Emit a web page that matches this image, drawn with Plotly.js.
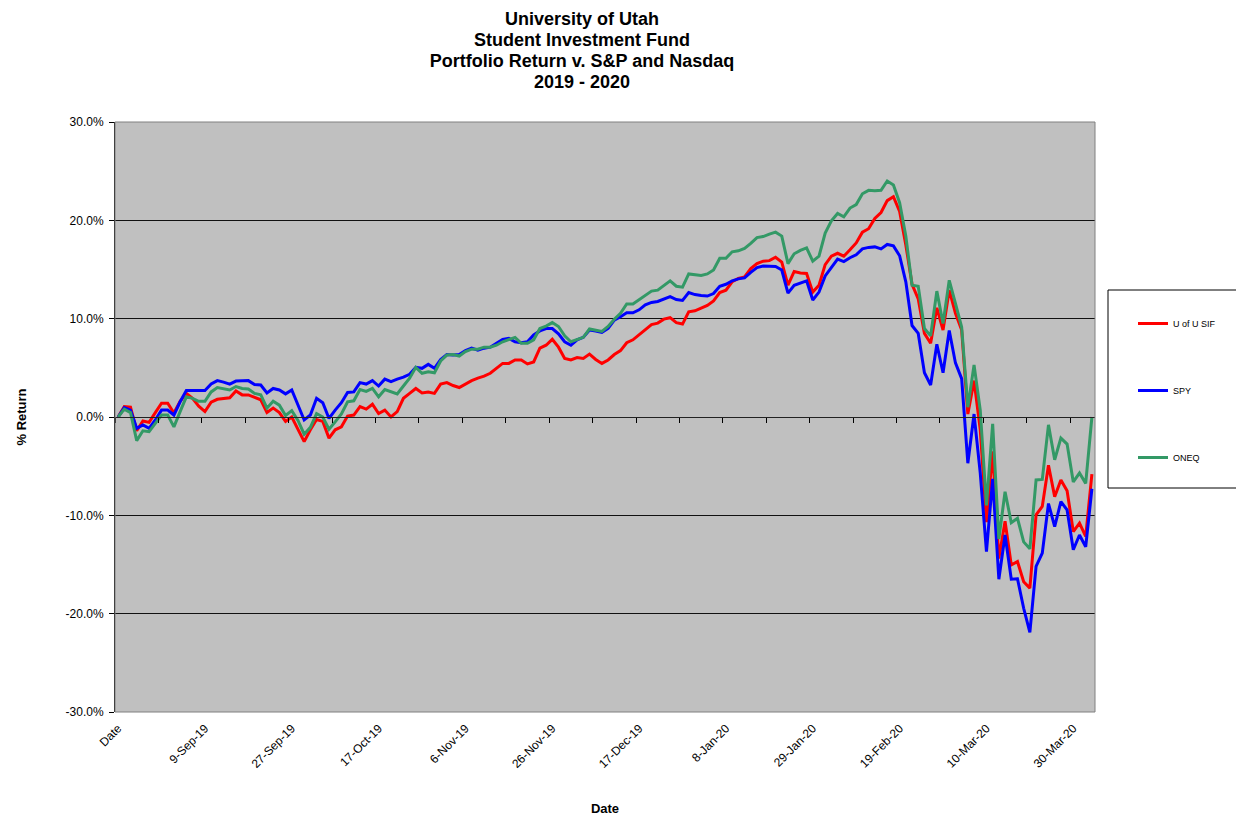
<!DOCTYPE html>
<html>
<head>
<meta charset="utf-8">
<script src="https://cdn.plot.ly/plotly-3.0.1.min.js"></script>
<style>
html,body{margin:0;padding:0;background:#fff;}
#chart{width:1236px;height:816px;}
</style>
</head>
<body>
<div id="chart"></div>
<script>
// Tick labels (one every 14 trading days, first category is the "Date" header row)
const tickLabels = ["Date","9-Sep-19","27-Sep-19","17-Oct-19","6-Nov-19","26-Nov-19","17-Dec-19","8-Jan-20","29-Jan-20","19-Feb-20","10-Mar-20","30-Mar-20"];
const yTickValues = [-30,-20,-10,0,10,20,30];

// % return series
const sifReturns = [
0,1.05,1.0,-1.4,-0.4,-0.55,0.45,1.4,1.4,0.4,
1.6,2.4,1.9,1.1,0.55,1.5,1.8,1.85,1.95,2.65,
2.25,2.25,2.0,1.75,0.45,0.9,0.45,-0.45,0.0,-1.25,
-2.5,-1.3,-0.25,-0.45,-2.15,-1.3,-1.0,0.1,0.2,1.05,
0.8,1.3,0.35,0.7,0.0,0.55,1.9,2.4,2.9,2.45,
2.55,2.4,3.35,3.5,3.2,3.0,3.35,3.7,3.95,4.15,
4.45,4.95,5.45,5.45,5.8,5.8,5.4,5.6,7.0,7.3,
7.9,7.1,5.95,5.8,6.05,5.95,6.4,5.85,5.45,5.8,
6.35,6.75,7.55,7.85,8.35,8.85,9.4,9.55,9.95,10.1,
9.6,9.45,10.7,10.8,11.05,11.35,11.8,12.65,12.9,13.75,
14.1,14.25,15.1,15.6,15.85,15.9,16.25,15.75,13.4,14.8,
14.65,14.6,12.7,13.4,15.5,16.35,16.65,16.35,17.0,17.7,
18.8,19.15,20.2,20.8,22.0,22.4,20.9,17.5,13.5,12.0,
8.5,7.5,11.1,8.85,12.9,10.55,8.85,0.3,3.7,-1.3,
-10.7,-3.5,-14.4,-10.6,-15.05,-14.7,-16.75,-17.4,-9.95,-9.1,
-4.9,-8.1,-6.4,-7.5,-11.65,-10.8,-12.15,-5.8];

const spyReturns = [
0,0.95,0.7,-1.15,-0.8,-1.15,-0.3,0.7,0.7,0.2,
1.55,2.7,2.7,2.7,2.7,3.35,3.7,3.55,3.35,3.65,
3.7,3.7,3.3,3.25,2.45,2.9,2.75,2.35,2.75,1.2,
-0.3,0.2,1.9,1.45,-0.15,0.7,1.45,2.5,2.55,3.5,
3.35,3.7,3.15,3.85,3.6,3.85,4.05,4.35,5.05,4.95,
5.35,4.95,5.85,6.35,6.3,6.35,6.75,7.0,6.8,7.0,
7.1,7.5,7.9,8.0,7.65,7.55,7.65,8.35,8.75,9.0,
9.0,8.45,7.65,7.3,7.85,8.1,8.85,8.75,8.6,9.0,
9.85,10.2,10.6,10.6,10.9,11.4,11.65,11.75,12.0,12.25,
11.95,11.85,12.65,12.45,12.35,12.3,12.55,13.3,13.5,13.85,
14.05,14.15,14.7,15.2,15.35,15.3,15.3,14.95,12.6,13.4,
13.65,13.85,11.9,12.7,14.35,15.15,16.05,15.8,16.2,16.5,
17.1,17.25,17.3,17.1,17.55,17.4,16.4,13.75,9.3,8.5,
4.5,3.25,7.4,4.5,8.8,5.5,3.9,-4.7,0.3,-5.7,
-13.7,-6.3,-16.5,-12.0,-16.5,-16.45,-19.45,-21.9,-15.2,-13.85,
-8.8,-11.15,-8.6,-9.45,-13.5,-12.0,-13.2,-7.3];

const oneqReturns = [
0,0.8,0.45,-2.4,-1.4,-1.5,-0.65,0.2,0.2,-1.0,
0.55,2.05,1.9,1.6,1.6,2.55,3.0,2.9,2.75,3.1,
2.9,2.85,2.4,2.25,0.9,1.6,1.2,0.15,0.65,-0.35,
-1.75,-1.05,0.35,0.0,-1.25,-0.5,0.3,1.55,1.65,2.8,
2.6,2.9,2.05,2.8,2.6,2.35,3.15,3.95,5.05,4.45,
4.6,4.5,5.7,6.3,6.35,6.2,6.65,6.9,6.9,7.1,
7.1,7.3,7.65,7.9,8.1,7.5,7.5,7.85,9.0,9.25,
9.6,9.2,8.25,7.65,7.9,8.1,8.95,8.8,8.7,9.2,
9.95,10.55,11.5,11.5,11.95,12.4,12.8,12.9,13.4,13.85,
13.3,13.2,14.55,14.45,14.4,14.55,14.95,16.15,16.15,16.8,
16.9,17.15,17.65,18.25,18.35,18.6,18.8,18.4,15.6,16.6,
16.95,17.2,15.85,16.35,18.7,19.95,20.7,20.35,21.25,21.6,
22.7,23.05,23.0,23.05,24.0,23.6,21.8,18.4,13.4,13.3,
9.0,8.25,12.8,9.5,13.9,11.55,9.15,1.0,5.3,0.7,
-9.0,-0.7,-12.4,-7.6,-10.75,-10.3,-12.7,-13.4,-6.4,-6.35,
-0.8,-4.35,-2.15,-2.75,-6.6,-5.7,-6.75,0.0];

const seriesNames = ["U of U SIF","SPY","ONEQ"];
const seriesColors = ["#ff0000","#0000ff","#339966"];
const labelStep = 14;

const idx = sifReturns.map((_, i) => i);
const tickVals = tickLabels.map((_, k) => k * labelStep);
const yTickText = yTickValues.map(v => v.toFixed(1) + "%");
const nCat = sifReturns.length;

const FONT = "Arial, 'Liberation Sans', Helvetica, sans-serif";

const traces = [sifReturns, spyReturns, oneqReturns].map((vals, s) => ({
  type: "scatter", mode: "lines",
  x: idx, y: vals,
  name: seriesNames[s],
  legendgroup: "g" + s,
  line: {color: seriesColors[s], width: 3},
  hoverinfo: "skip"
}));
// helper trace for the zero-crossing category axis (ticks only)
traces.push({type:"scatter", mode:"lines", x:[0], y:[0], xaxis:"x2", yaxis:"y",
  showlegend:false, hoverinfo:"skip", line:{width:0, color:"rgba(0,0,0,0)"}});

const pxX = px => (px - 115) / 980;
const pxY = py => (712 - py) / 590;

const titleLines = ["University of Utah","Student Investment Fund","Portfolio Return v. S&P and Nasdaq","2019 - 2020"];

const layout = {
  width: 1236, height: 816,
  margin: {l: 115, r: 141, t: 122, b: 104},
  paper_bgcolor: "#ffffff",
  plot_bgcolor: "#c0c0c0",
  font: {family: FONT, color: "#000", size: 11},
  title: {
    text: "<b><span style=\"font-size:18px\">" + titleLines.join("<br>") + "</span></b>",
    font: {family: FONT, size: 16.2, color: "#000"},
    xref: "container", x: 582/1236, xanchor: "center",
    yref: "container", y: 1 - 25/816, yanchor: "top"
  },
  xaxis: {
    range: [-0.5, nCat - 0.5],
    tickmode: "array", tickvals: tickVals, ticktext: tickLabels,
    tickangle: -45, ticks: "", showgrid: false, zeroline: false,
    showline: false, ticklabelstandoff: 6,
    tickfont: {family: FONT, size: 12, color: "#000"},
    title: {text: "<b>Date</b>", font: {family: FONT, size: 13, color: "#000"}, standoff: 42},
    automargin: false, fixedrange: true
  },
  xaxis2: {
    overlaying: "x", anchor: "free", position: 0.5, side: "bottom",
    range: [-0.5, nCat - 0.5],
    tickmode: "linear", tick0: -0.5, dtick: 7,
    ticks: "outside", ticklen: 5, tickwidth: 1, tickcolor: "#000",
    showticklabels: false, showgrid: false, zeroline: false,
    showline: true, linecolor: "#222", linewidth: 1, fixedrange: true
  },
  yaxis: {
    range: [-30, 30],
    tickmode: "array", tickvals: yTickValues, ticktext: yTickText,
    ticks: "outside", ticklen: 5, tickcolor: "#000", ticklabelstandoff: 3,
    showgrid: true, gridcolor: "#111", gridwidth: 1,
    zeroline: false, showline: true, linecolor: "#000", linewidth: 1,
    tickfont: {family: FONT, size: 12, color: "#000"},
    title: {text: "<b>% Return</b>", font: {family: FONT, size: 13, color: "#000"}, standoff: 36},
    automargin: false, fixedrange: true
  },
  shapes: [
    {type: "rect", xref: "paper", yref: "paper", x0: 0, x1: 1, y0: 0, y1: 1,
     line: {color: "#808080", width: 1}, layer: "above"},
    {type: "rect", xref: "paper", yref: "paper",
     x0: pxX(1108), x1: pxX(1245), y0: pxY(488), y1: pxY(290),
     line: {color: "#000", width: 1}, fillcolor: "#ffffff", layer: "below"}
  ],
  legend: {
    x: pxX(1133), xanchor: "left", y: pxY(309), yanchor: "top",
    bgcolor: "rgba(0,0,0,0)", borderwidth: 0,
    font: {family: FONT, size: 9, color: "#000"},
    traceorder: "grouped", tracegroupgap: 48,
    itemclick: false, itemdoubleclick: false
  },
  showlegend: true
};

Plotly.newPlot("chart", traces, layout, {displayModeBar: false, staticPlot: true});
</script>
</body>
</html>
